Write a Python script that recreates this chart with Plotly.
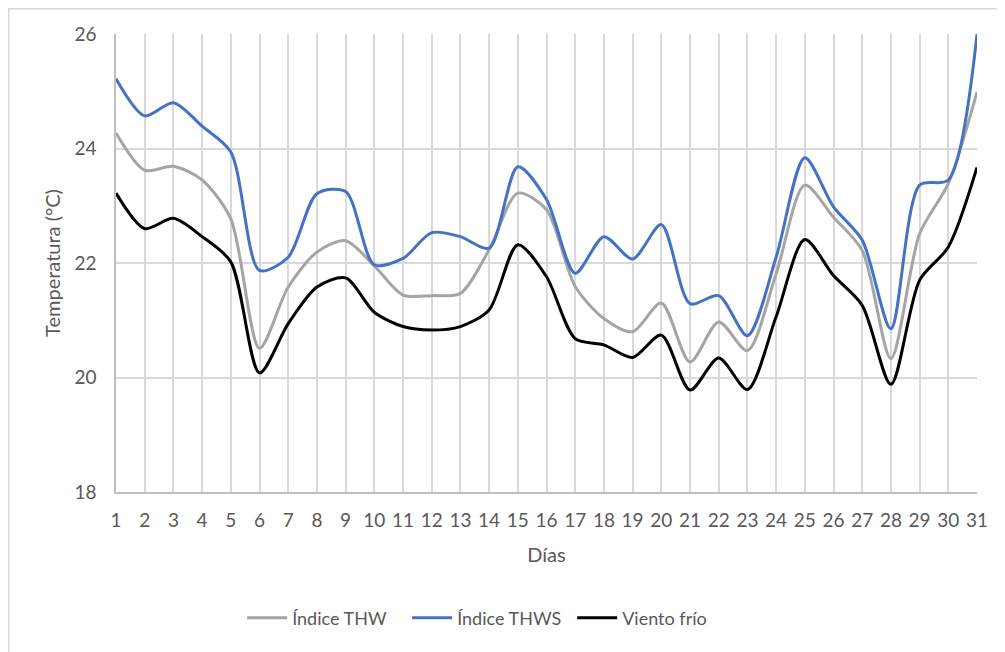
import plotly.graph_objects as go

dias = list(range(1, 32))

indice_thw = [24.27, 23.62, 23.69, 23.45, 22.77, 20.51, 21.58, 22.19, 22.39, 21.95,
              21.44, 21.43, 21.47, 22.23, 23.22, 22.93, 21.59, 21.03, 20.80, 21.30,
              20.27, 20.97, 20.47, 21.81, 23.36, 22.80, 22.22, 20.33, 22.51, 23.39, 24.99]

indice_thws = [25.22, 24.57, 24.80, 24.39, 23.94, 21.87, 22.10, 23.21, 23.25, 21.97,
               22.08, 22.53, 22.46, 22.26, 23.68, 23.11, 21.82, 22.46, 22.07, 22.67,
               21.29, 21.43, 20.73, 22.10, 23.84, 22.98, 22.40, 20.85, 23.36, 23.45, 26.0]

viento_frio = [23.22, 22.60, 22.78, 22.46, 22.02, 20.08, 20.94, 21.58, 21.74, 21.14,
               20.89, 20.83, 20.89, 21.18, 22.32, 21.76, 20.68, 20.57, 20.35, 20.74,
               19.78, 20.34, 19.79, 21.06, 22.41, 21.78, 21.26, 19.88, 21.70, 22.28, 23.67]

y_ticks = [18, 20, 22, 24, 26]

series = [
    ("Índice THW", indice_thw, "#a5a5a5"),
    ("Índice THWS", indice_thws, "#4472c4"),
    ("Viento frío", viento_frio, "#000000"),
]

fig = go.Figure()
for name, vals, color in series:
    fig.add_trace(go.Scatter(
        x=dias, y=vals, name=name, mode="lines",
        line=dict(color=color, width=3, shape="spline", smoothing=0.8),
    ))

font_family = "Lato, Open Sans, sans-serif"
L, R, T, B = 108, 36, 26, 168
PW = 1005 - L - R
PH = 652 - T - B
fig.update_layout(
    width=1005, height=652,
    margin=dict(l=L, r=R, t=T, b=B),
    paper_bgcolor="white", plot_bgcolor="white",
    font=dict(family=font_family, color="#595959", size=19),
    showlegend=True,
    legend=dict(orientation="h", x=0.434, xanchor="center", y=-0.235, yanchor="top",
                font=dict(size=18, color="#595959"), itemwidth=40,
                entrywidth=110, entrywidthmode="pixels"),
    xaxis=dict(
        range=[1, 31], tickmode="array", tickvals=dias, ticktext=[str(d) for d in dias],
        showgrid=True, gridcolor="#d9d9d9", gridwidth=1.5,
        showline=True, linecolor="#bfbfbf", linewidth=1.5,
        zeroline=False, ticks="", ticklabelstandoff=10,
        title=dict(text="Días", font=dict(size=20, color="#595959"), standoff=18),
    ),
    yaxis=dict(
        range=[18, 26], tickmode="array", tickvals=y_ticks,
        showgrid=True, gridcolor="#d9d9d9", gridwidth=1.5,
        showline=True, linecolor="#bfbfbf", linewidth=1.5,
        zeroline=False, ticks="", ticklabelstandoff=14,
        title=dict(text="Temperatura (°C)", font=dict(size=20, color="#595959"), standoff=8),
    ),
    shapes=[dict(type="rect", xref="paper", yref="paper",
                 x0=(0.75 - L) / PW, x1=(1010 - L) / PW,
                 y0=-(B + 10) / PH, y1=(PH + T - 0.75) / PH,
                 line=dict(color="#d9d9d9", width=1.5), fillcolor="rgba(0,0,0,0)",
                 layer="below")],
)

fig.write_html("out.html")
